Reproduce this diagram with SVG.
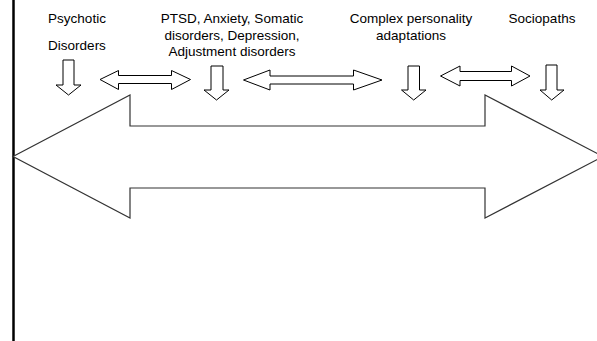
<svg xmlns="http://www.w3.org/2000/svg" width="597" height="341" viewBox="0 0 597 341">
<style>
text{font-family:"Liberation Sans",Arial,sans-serif;font-size:13.5px;fill:#000;text-anchor:middle}
.arr{fill:#fff;stroke:#000;stroke-width:1}
.big{fill:#fff;stroke:#333;stroke-width:1.2}
</style>
<rect width="597" height="341" fill="#fff"/>
<line x1="13.5" y1="0" x2="13.5" y2="341" stroke="#000" stroke-width="2.5"/>
<g id="big-arrow">
<polygon class="big" points="13,156.5 130,95 130,126 485,126 485,95 603,156.5 485,218 485,188 130,188 130,218"/>
</g>
<g id="psychotic">
<text x="77" y="23">Psychotic</text>
<text x="77" y="50">Disorders</text>
</g>
<g id="ptsd">
<text x="232" y="23">PTSD, Anxiety, Somatic</text>
<text x="232" y="39.5">disorders, Depression,</text>
<text x="232" y="56">Adjustment disorders</text>
</g>
<g id="complex">
<text x="411" y="23">Complex personality</text>
<text x="411" y="39.5">adaptations</text>
</g>
<g id="sociopaths">
<text x="542" y="23">Sociopaths</text>
</g>
<g id="connectors">
<polygon class="arr" points="63,60 74,60 74,85 81,85 68.5,95 56,85 63,85"/>
<polygon class="arr" points="211,66 223,66 223,90 229,90 216.5,100 204,90 211,90"/>
<polygon class="arr" points="408,66 419.5,66 419.5,90 426,90 413.7,100 401.5,90 408,90"/>
<polygon class="arr" points="546,65 557,65 557,90 564,90 551.7,100 540,90 546,90"/>
<polygon class="arr" points="100,79.5 118.5,70.5 118.5,75.5 171.5,75.5 171.5,70.5 190.5,79.5 171.5,89.5 171.5,83.5 118.5,83.5 118.5,89.5"/>
<polygon class="arr" points="243.5,80 270,70 270,76 353.5,76 353.5,70 382,80 353.5,90 353.5,84 270,84 270,90"/>
<polygon class="arr" points="440.5,76 460,66 460,71.5 511.5,71.5 511.5,66 530,76 511.5,86 511.5,80.5 460,80.5 460,86"/>
</g>
</svg>
